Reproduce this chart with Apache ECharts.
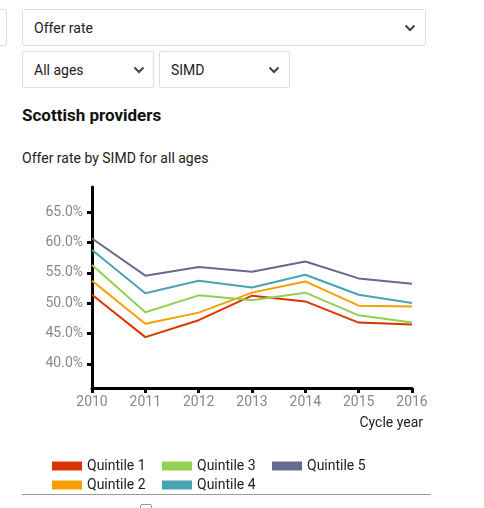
<!DOCTYPE html>
<html><head><meta charset="utf-8">
<script src="https://cdn.jsdelivr.net/npm/echarts@6/dist/echarts.min.js"></script>
<style>
html,body{margin:0;padding:0;background:#fff;width:484px;height:508px;overflow:hidden;font-family:Roboto,"Noto Sans",sans-serif;color:#222;}
.box{position:absolute;border:1px solid #ddd;border-radius:2px;box-sizing:border-box;background:#fff;font-size:14px;color:#222;}
.box span{position:absolute;left:11px;top:50%;transform:translateY(-50%);}
.box svg{position:absolute;top:50%;margin-top:-4px;}
#title{position:absolute;left:22px;top:105px;font-size:17px;font-weight:bold;color:#111;}
#sub{position:absolute;left:22px;top:150px;font-size:14px;color:#222;}
#chart{position:absolute;left:0;top:172px;width:484px;height:321px;}
#rule{position:absolute;left:22px;top:494px;width:409px;height:0;border-top:1px solid #999;}
#chk{position:absolute;left:140px;top:504px;width:10px;height:10px;border:1px solid #999;border-radius:2px;}
</style></head>
<body>
<div class="box" style="left:-10px;top:9px;width:17px;height:37px;"></div>
<div class="box" style="left:22px;top:9px;width:404px;height:37px;"><span>Offer rate</span>
<svg style="left:381px" width="12" height="8" viewBox="0 0 12 8"><polyline points="1.5,1.5 6,6 10.5,1.5" fill="none" stroke="#444" stroke-width="2"/></svg></div>
<div class="box" style="left:22px;top:51px;width:132px;height:37px;"><span>All ages</span>
<svg style="left:110px" width="12" height="8" viewBox="0 0 12 8"><polyline points="1.5,1.5 6,6 10.5,1.5" fill="none" stroke="#444" stroke-width="2"/></svg></div>
<div class="box" style="left:159px;top:51px;width:131px;height:37px;"><span>SIMD</span>
<svg style="left:108px" width="12" height="8" viewBox="0 0 12 8"><polyline points="1.5,1.5 6,6 10.5,1.5" fill="none" stroke="#444" stroke-width="2"/></svg></div>
<div id="title">Scottish providers</div>
<div id="sub">Offer rate by SIMD for all ages</div>
<div id="chart"></div>
<div id="rule"></div>
<div id="chk"></div>
<script>
const years = ['2010','2011','2012','2013','2014','2015','2016'];
const seriesNames = ['Quintile 1','Quintile 2','Quintile 3','Quintile 4','Quintile 5'];
const quintile1 = [51.4, 44.4, 47.2, 51.25, 50.3, 46.8, 46.5];
const quintile2 = [53.7, 46.6, 48.45, 51.75, 53.6, 49.6, 49.45];
const quintile3 = [56.3, 48.5, 51.3, 50.5, 51.75, 48.0, 46.8];
const quintile4 = [58.8, 51.65, 53.7, 52.6, 54.7, 51.4, 50.05];
const quintile5 = [60.7, 54.55, 56.0, 55.2, 56.9, 54.1, 53.2];
const yTicks = [40, 45, 50, 55, 60, 65];
const colors = ['#da3500', '#f5a000', '#92d050', '#47a4b0', '#666a8f'];
const values = [quintile1, quintile2, quintile3, quintile4, quintile5];

const chart = echarts.init(document.getElementById('chart'));
const legendText = {fontSize: 14, color: '#222', fontFamily: 'Roboto'};
const legendBase = {orient: 'vertical', top: 287, itemWidth: 30, itemHeight: 9, itemGap: 5, icon: 'rect', textStyle: legendText, selectedMode: false, padding: 0};
chart.setOption({
  animation: false,
  color: colors,
  grid: {left: 92, top: 15, right: 72, bottom: 105, containLabel: false},
  legend: [
    Object.assign({left: 52, data: [seriesNames[0], seriesNames[1]]}, legendBase),
    Object.assign({left: 162, data: [seriesNames[2], seriesNames[3]]}, legendBase),
    Object.assign({left: 272, data: [seriesNames[4]]}, legendBase)
  ],
  xAxis: {
    type: 'category', data: years, boundaryGap: false,
    name: 'Cycle year', nameLocation: 'end', nameGap: 11,
    nameTextStyle: {color: '#222', fontSize: 14, fontFamily: 'Roboto', align: 'right', verticalAlign: 'top', padding: [28, 0, 0, 0]},
    axisLine: {lineStyle: {color: '#000', width: 3}},
    axisTick: {show: true, length: 5, lineStyle: {color: '#000', width: 3}},
    axisLabel: {color: '#888', fontSize: 14, fontFamily: 'Roboto', margin: 7},
    splitLine: {show: false}
  },
  yAxis: {
    type: 'value', min: 36, max: 69.2,
    axisLine: {show: true, lineStyle: {color: '#000', width: 3}},
    axisTick: {show: true, length: 5, lineStyle: {color: '#000', width: 3}, customValues: yTicks},
    axisLabel: {color: '#888', fontSize: 14, fontFamily: 'Roboto', margin: 9, customValues: yTicks,
      formatter: v => v.toFixed(1) + '%'},
    splitLine: {show: false}
  },
  series: seriesNames.map((n, i) => ({
    name: n, type: 'line', data: values[i], showSymbol: false, symbol: 'none',
    lineStyle: {width: 2, color: colors[i]}, itemStyle: {color: colors[i]}
  }))
});
</script>
</body></html>
